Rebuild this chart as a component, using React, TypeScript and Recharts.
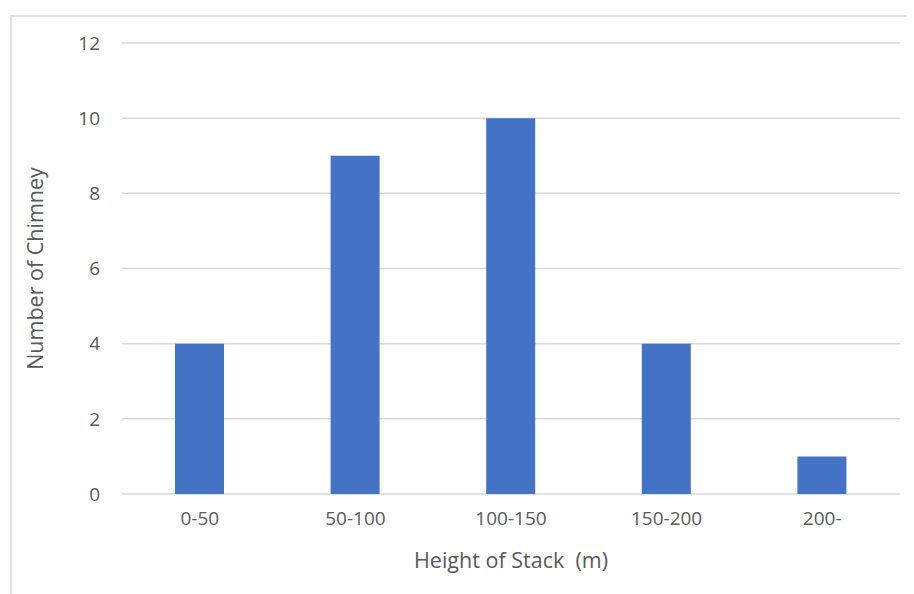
import React from "react";
import { BarChart, Bar, XAxis, YAxis, CartesianGrid, Label } from "recharts";

const categories = ["0-50", "50-100", "100-150", "150-200", "200-"];
const counts = [4, 9, 10, 4, 1];
const yTicks = [0, 2, 4, 6, 8, 10, 12];

const data = categories.map((c, i) => ({ range: c, count: counts[i] }));

const FONT = "'Open Sans', sans-serif";
const TXT = "#595959";
const TICK = 19;
const LBL = 21.5;

export default function App() {
  return (
    <div style={{ position: "relative", width: 906, height: 586 }}>
      <div
        style={{
          position: "absolute",
          left: 2,
          top: 7,
          right: -20,
          bottom: -20,
          borderLeft: "2px solid #e0e0e0",
          borderTop: "2px solid #e0e0e0",
        }}
      />
      <BarChart
        width={900}
        height={586}
        data={data}
        margin={{ top: 35, right: 8, bottom: 20, left: 0 }}
        style={{ position: "absolute", left: 0, top: 0, fontFamily: FONT }}
      >
        <CartesianGrid vertical={false} stroke="#d9d9d9" strokeWidth={1.5} />
        <XAxis
          dataKey="range"
          height={80}
          tickSize={0}
          tickMargin={18}
          axisLine={false}
          fontSize={TICK}
          fontFamily={FONT}
          tick={{ fill: TXT, fontSize: TICK, fontFamily: FONT }}
        >
          <Label
            value={"Height of Stack\u00a0 (m)"}
            position="center"
            dy={26}
            fontSize={LBL}
            fontFamily={FONT}
            fill={TXT}
            style={{ fill: TXT, fontSize: LBL, fontFamily: FONT }}
          />
        </XAxis>
        <YAxis
          width={114}
          domain={[0, 12]}
          ticks={yTicks}
          tickSize={0}
          tickMargin={22}
          axisLine={false}
          fontSize={TICK}
          fontFamily={FONT}
          tick={{ fill: TXT, fontSize: TICK, fontFamily: FONT }}
        >
          <Label
            value="Number of Chimney"
            position="center"
            angle={-90}
            dx={-30}
            fontSize={LBL}
            fontFamily={FONT}
            fill={TXT}
            style={{ fill: TXT, fontSize: LBL, fontFamily: FONT }}
          />
        </YAxis>
        <Bar dataKey="count" fill="#4472C4" barSize={49} isAnimationActive={false} />
      </BarChart>
    </div>
  );
}
